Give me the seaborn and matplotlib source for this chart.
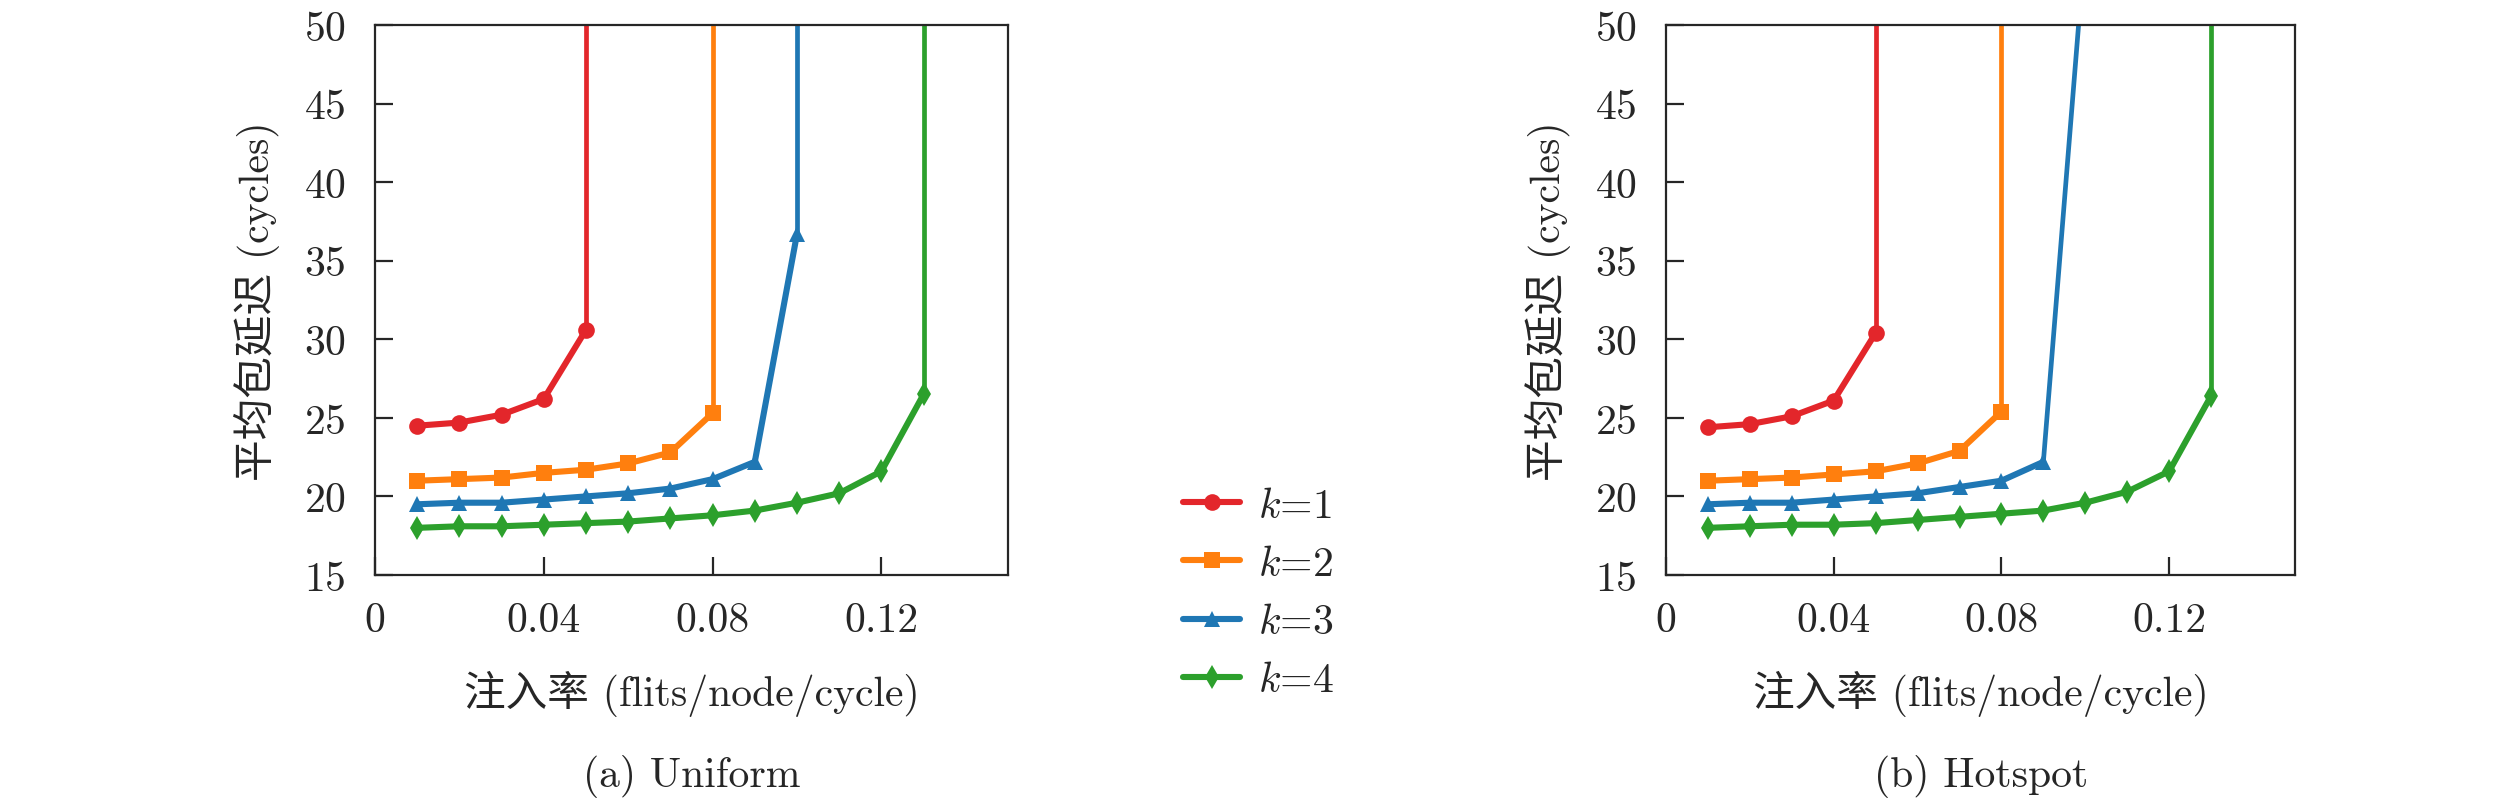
import matplotlib
matplotlib.use("Agg")
import matplotlib.pyplot as plt
import seaborn as sns
import pandas as pd

# injection rates (flits/node/cycle)
rates = [0.01, 0.02, 0.03, 0.04, 0.05, 0.06, 0.07, 0.08, 0.09, 0.10, 0.11, 0.12, 0.13]

# average packet latency (cycles)
uniform_k1 = [24.5, 24.7, 25.2, 26.2, 30.6]
uniform_k2 = [21.0, 21.1, 21.2, 21.5, 21.7, 22.1, 22.8, 25.3]
uniform_k3 = [19.5, 19.6, 19.6, 19.8, 20.0, 20.2, 20.5, 21.1, 22.2, 36.7]
uniform_k4 = [18.0, 18.1, 18.1, 18.2, 18.3, 18.4, 18.6, 18.8, 19.1, 19.6, 20.2, 21.6, 26.5]

hotspot_k1 = [24.4, 24.6, 25.1, 26.1, 30.4]
hotspot_k2 = [21.0, 21.1, 21.2, 21.4, 21.6, 22.1, 22.9, 25.4]
hotspot_k3 = [19.5, 19.6, 19.6, 19.8, 20.0, 20.2, 20.6, 21.0, 22.2]
hotspot_k4 = [18.0, 18.1, 18.2, 18.2, 18.3, 18.5, 18.7, 18.9, 19.1, 19.6, 20.3, 21.6, 26.4]

# where each curve saturates (latency blows past the top of the plot)
uniform_sat = {1: (0.05, 200), 2: (0.08, 200), 3: (0.10, 200), 4: (0.13, 200)}
hotspot_sat = {1: (0.05, 200), 2: (0.08, 200), 3: (0.10, 55.3), 4: (0.13, 200)}

labels = ["$k$=1", "$k$=2", "$k$=3", "$k$=4"]
colors = ["#e3262b", "#ff7f0e", "#1f77b4", "#2ca02c"]
markers = ["o", "s", "^", "d"]

FS = 30

sns.set_style("ticks")
plt.rcParams["font.family"] = ["cmr10", "Noto Sans CJK SC"]
plt.rcParams["mathtext.fontset"] = "cm"
plt.rcParams["axes.formatter.use_mathtext"] = True
plt.rcParams["axes.unicode_minus"] = False


def make_df(series):
    rows = []
    for i, ys in enumerate(series):
        for x, y in zip(rates, ys):
            rows.append({"rate": x, "latency": y, "k": labels[i]})
    return pd.DataFrame(rows)


def draw(ax, series, sat):
    df = make_df(series)
    for i, lab in enumerate(labels):
        sub = df[df["k"] == lab]
        # saturation tail, drawn first so markers sit on top
        tail = pd.DataFrame({"rate": [sub["rate"].iloc[-1], sat[i + 1][0]],
                             "latency": [sub["latency"].iloc[-1], sat[i + 1][1]]})
        sns.lineplot(data=tail, x="rate", y="latency", ax=ax, color=colors[i],
                     lw=3.4, sort=False, estimator=None, legend=False)
        sns.lineplot(data=sub, x="rate", y="latency", ax=ax, color=colors[i],
                     marker=markers[i], markersize=12, markeredgewidth=0,
                     lw=4.4, label=lab, estimator=None)
    ax.set_xlim(0, 0.15)
    ax.set_ylim(15, 50)
    ax.set_xticks([0, 0.04, 0.08, 0.12])
    ax.set_xticklabels(["0", "0.04", "0.08", "0.12"])
    ax.set_yticks(range(15, 51, 5))
    ax.tick_params(axis="both", direction="in", length=13, width=1.6,
                   labelsize=FS, top=False, right=False)
    ax.tick_params(axis="x", pad=19)
    ax.tick_params(axis="y", pad=21)
    for s in ax.spines.values():
        s.set_linewidth(1.6)
        s.set_visible(True)
    ax.set_xlabel("注入率 (flits/node/cycle)", fontsize=FS, labelpad=22)
    ax.set_ylabel("平均包延迟 (cycles)", fontsize=FS, labelpad=17)
    ax.get_legend().remove()


fig = plt.figure(figsize=(25.2, 8.03), dpi=100)
ax1 = fig.add_axes([0.1488, 0.2827, 0.2512, 0.6849])
ax2 = fig.add_axes([0.6611, 0.2827, 0.2496, 0.6849])

draw(ax1, [uniform_k1, uniform_k2, uniform_k3, uniform_k4], uniform_sat)
draw(ax2, [hotspot_k1, hotspot_k2, hotspot_k3, hotspot_k4], hotspot_sat)

handles, leg_labels = ax1.get_legend_handles_labels()
fig.legend(handles, leg_labels, loc="center", bbox_to_anchor=(0.4995, 0.26),
           frameon=False, fontsize=FS, handlelength=1.35, handletextpad=0.45,
           labelspacing=0.5)

fig.text(0.2744, 0.033, "(a) Uniform", ha="center", va="center", fontsize=FS)
fig.text(0.786, 0.033, "(b) Hotspot", ha="center", va="center", fontsize=FS)

fig.savefig("out.png", dpi=100, facecolor="white")
